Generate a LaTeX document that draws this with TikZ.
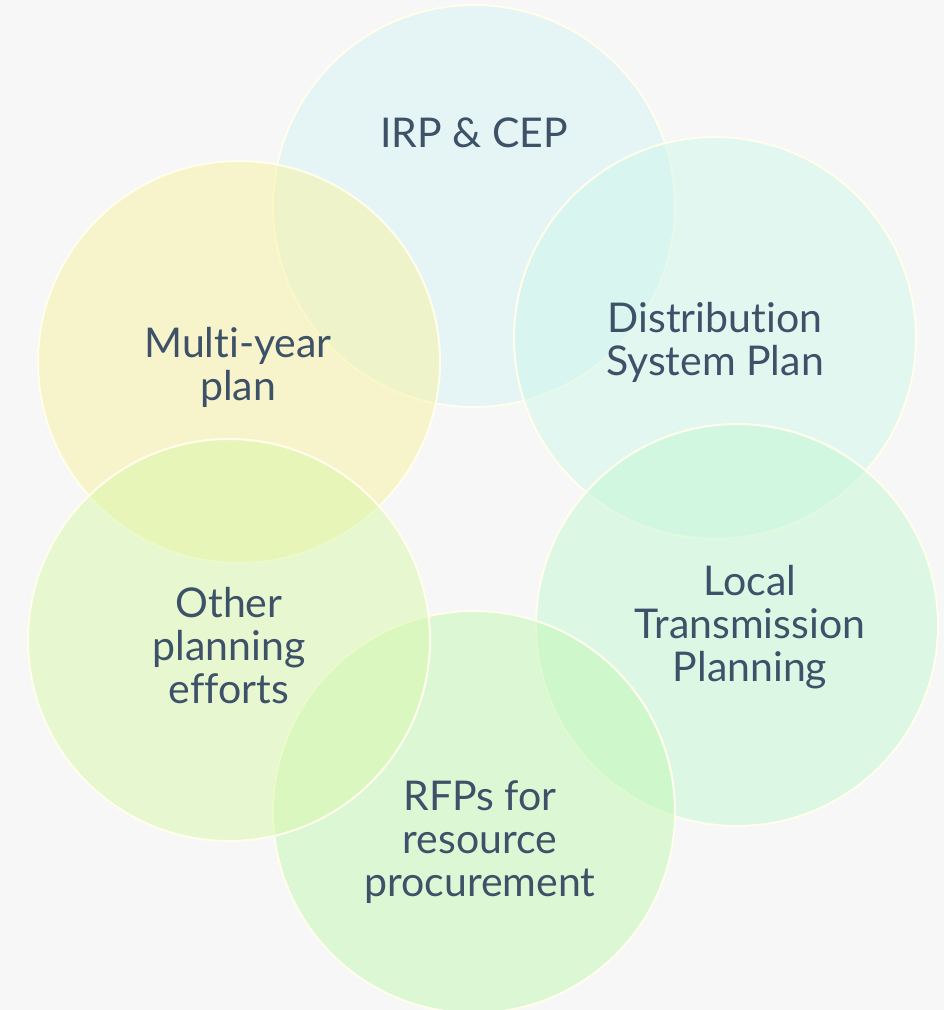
\documentclass[tikz,border=0pt]{standalone}
\usepackage{fontspec}
\setmainfont{Lato}[Ligatures=NoCommon]
\begin{document}
\begin{tikzpicture}[x=1pt,y=-1pt,
  bubble/.style={circle,minimum size=402pt,inner sep=0pt,draw=bordercol,line width=2pt,fill opacity=0.5,draw opacity=1},
  lbl/.style={text=txtcol,align=center,font=\fontsize{41}{43}\selectfont,anchor=base,inner sep=0pt}]
\definecolor{bgcol}{RGB}{247,247,247}
\definecolor{bordercol}{RGB}{255,254,236}
\definecolor{txtcol}{RGB}{61,81,104}
\definecolor{cirp}{RGB}{213,243,243}
\definecolor{cdsp}{RGB}{207,247,235}
\definecolor{cltp}{RGB}{195,247,211}
\definecolor{crfp}{RGB}{193,247,179}
\definecolor{coth}{RGB}{217,247,169}
\definecolor{cmyp}{RGB}{247,243,161}
\useasboundingbox (0,0) rectangle (944,1010);
\fill[bgcol] (0,0) rectangle (944,1010);
\node[bubble,fill=cirp] (irp) at (474,206) {};
\node[bubble,fill=cmyp] (myp) at (239,362) {};
\node[bubble,fill=cdsp] (dsp) at (715,338) {};
\node[bubble,fill=cltp] (ltp) at (737,625) {};
\node[bubble,fill=crfp] (rfp) at (474,812) {};
\node[bubble,fill=coth] (oth) at (229,640) {};
\node[lbl] (irpt) at (474,147) {IRP \& CEP};
\node[lbl] (mypt) at (238,400) {Multi-year\\plan};
\node[lbl] (dspt) at (715,375) {Distribution\\System Plan};
\node[lbl] (ltpt) at (750,681) {Local\\Transmission\\Planning};
\node[lbl] (rfpt) at (480,896) {RFPs for\\resource\\procurement};
\node[lbl] (otht) at (229,703) {Other\\planning\\efforts};
\end{tikzpicture}
\end{document}
